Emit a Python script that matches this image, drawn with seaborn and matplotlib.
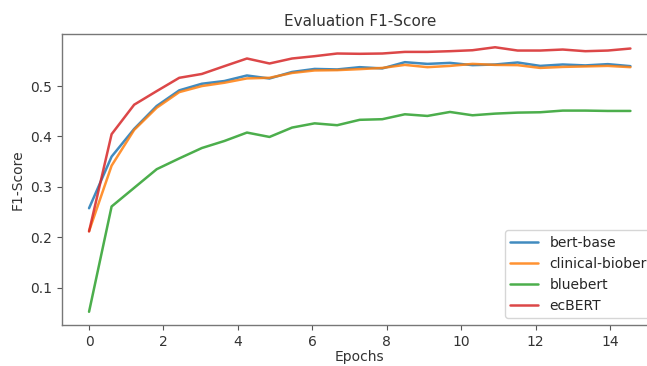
import numpy as np
import pandas as pd
import matplotlib
matplotlib.use("Agg")
import matplotlib.pyplot as plt
import seaborn as sns

epochs = [0.0, 0.606, 1.212, 1.818, 2.424, 3.03, 3.636, 4.242, 4.848, 5.454,
          6.06, 6.666, 7.272, 7.878, 8.484, 9.09, 9.696, 10.302, 10.908, 11.514,
          12.12, 12.726, 13.332, 13.938, 14.544]

bert_base = [0.2575, 0.360, 0.415, 0.4605, 0.4915, 0.5046, 0.510, 0.521, 0.515, 0.528,
             0.534, 0.533, 0.5375, 0.535, 0.5474, 0.544, 0.546, 0.5415, 0.5428, 0.5468,
             0.540, 0.5428, 0.541, 0.5435, 0.5395]
clinical_biobert = [0.212, 0.342, 0.413, 0.457, 0.488, 0.500, 0.5066, 0.5152, 0.5164, 0.526,
                    0.531, 0.5316, 0.5336, 0.536, 0.542, 0.5375, 0.540, 0.544, 0.542, 0.5415,
                    0.536, 0.538, 0.539, 0.540, 0.5375]
bluebert = [0.052, 0.261, 0.298, 0.335, 0.3564, 0.377, 0.391, 0.4077, 0.399, 0.4176,
            0.426, 0.4223, 0.433, 0.4342, 0.444, 0.4407, 0.4486, 0.442, 0.4453, 0.4473,
            0.448, 0.4513, 0.4513, 0.4506, 0.4506]
ecbert = [0.2115, 0.4045, 0.463, 0.490, 0.5164, 0.524, 0.5395, 0.5547, 0.5448, 0.5547,
          0.5593, 0.5646, 0.564, 0.5646, 0.5678, 0.5678, 0.5692, 0.5711, 0.577, 0.5705,
          0.5705, 0.5725, 0.5692, 0.5705, 0.5745]

models = ["bert-base", "clinical-biobert", "bluebert", "ecBERT"]
series = [bert_base, clinical_biobert, bluebert, ecbert]

rows = []
for name, vals in zip(models, series):
    for e, v in zip(epochs, vals):
        rows.append({"Epochs": e, "F1-Score": v, "model": name})
df = pd.DataFrame(rows)

sns.set_style("white")
plt.rcParams["font.family"] = ["DejaVu Sans"]

fig = plt.figure(figsize=(6.47, 3.66), dpi=100)
ax = fig.add_axes([0.0958, 0.112, 0.9204, 0.795])

palette = ["#1f77b4", "#ff7f0e", "#2ca02c", "#d62728"]
sns.lineplot(data=df, x="Epochs", y="F1-Score", hue="model", hue_order=models,
             palette=palette, linewidth=1.8, alpha=0.85, ax=ax)

ax.set_xticks([0, 2, 4, 6, 8, 10, 12, 14])
ax.set_yticks([0.1, 0.2, 0.3, 0.4, 0.5])
ax.set_title("Evaluation F1-Score", fontsize=11, color="#333333")
ax.set_xlabel("Epochs", fontsize=10, color="#333333", labelpad=1)
ax.set_ylabel("F1-Score", fontsize=10, color="#333333")
ax.tick_params(axis="both", which="both", length=3.5, width=0.8, colors="#555555",
               labelsize=10, labelcolor="#333333", bottom=True, left=True)
for s in ax.spines.values():
    s.set_color("#777777")
    s.set_linewidth(1.0)

leg = ax.legend(loc="lower right", bbox_to_anchor=(1.012, 0.0), fontsize=10, frameon=True)
leg.get_frame().set_edgecolor("#cccccc")
for line in leg.get_lines():
    line.set_linewidth(1.8)

fig.savefig("out.png", dpi=100)
